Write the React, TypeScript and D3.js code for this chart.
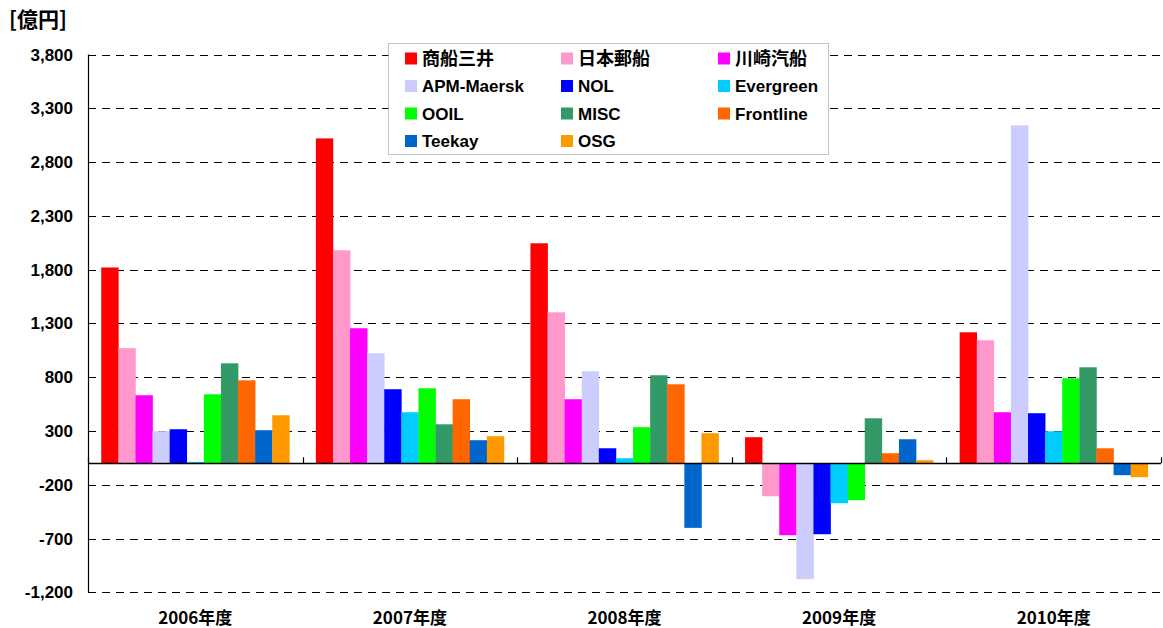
import React from "react";
import * as d3 from "d3";

const categories = ["2006年度", "2007年度", "2008年度", "2009年度", "2010年度"];
const seriesNames = [
  "商船三井", "日本郵船", "川崎汽船", "APM-Maersk", "NOL", "Evergreen",
  "OOIL", "MISC", "Frontline", "Teekay", "OSG",
];
const seriesColors = [
  "#FF0000", "#FF99CC", "#FF00FF", "#CCCCFF", "#0000FF", "#00CCFF",
  "#00FF00", "#339966", "#FF6600", "#0066CC", "#FF9900",
];
// values per series, by fiscal year 2006..2010 (億円)
const mitsui = [1820, 3020, 2045, 242, 1217];
const nyk = [1070, 1980, 1403, -307, 1143];
const kline = [632, 1255, 595, -669, 474];
const maersk = [298, 1022, 855, -1078, 3141];
const nol = [316, 688, 139, -660, 465];
const evergreen = [12, 474, 46, -372, 297];
const ooil = [641, 697, 335, -344, 790];
const misc = [929, 362, 818, 418, 892];
const frontline = [771, 595, 734, 93, 139];
const teekay = [307, 214, -601, 223, -111];
const osg = [446, 251, 279, 28, -130];
const seriesValues = [mitsui, nyk, kline, maersk, nol, evergreen, ooil, misc, frontline, teekay, osg];
const yTicks = [3800, 3300, 2800, 2300, 1800, 1300, 800, 300, -200, -700, -1200];
const unitLabel = "[億円]";

const W = 1163;
const H = 628;
const left = 88;
const right = 1161;
const top = 54.5;
const bottom = 592.3;

export default function App() {
  const x = d3.scaleBand<string>().domain(categories).range([left, right]).paddingInner(0).paddingOuter(0);
  const y = d3.scaleLinear().domain([-1200, 3800]).range([bottom, top]);
  const bw = x.bandwidth();
  const barW = bw / (seriesNames.length + 1.55);
  const offset = (bw - barW * seriesNames.length) / 2;
  const fmt = d3.format(",");
  const y0 = y(0);
  const snap = (v: number) => Math.round(v) + 0.5;

  const legendX = 388;
  const legendY = 43;
  const colX = [405, 561, 718];
  const rowY = [58.5, 86, 113.5, 141];

  return (
    <svg width={W} height={H} style={{ position: "absolute", left: 0, top: 0, background: "#fff" }}
      fontFamily="'Liberation Sans', Arial, 'Noto Sans CJK JP', sans-serif">
      <text x={9} y={27} fontSize={21} fontWeight="bold" fontFamily="'Noto Sans CJK JP', sans-serif">{unitLabel}</text>
      {/* gridlines */}
      {yTicks.map((t) => (
        <line key={"g" + t} x1={left} x2={right} y1={snap(y(t))} y2={snap(y(t))}
          stroke="#000" strokeWidth={1} strokeDasharray="8,6" />
      ))}
      {/* y labels */}
      {yTicks.map((t) => (
        <text key={"l" + t} x={73} y={y(t) + 6} textAnchor="end" fontSize={17} fontWeight="bold">
          {t < 0 ? "-" + fmt(-t) : fmt(t)}
        </text>
      ))}
      {/* bars */}
      {categories.map((c, ci) =>
        seriesValues.map((vals, si) => {
          const v = vals[ci];
          const x0 = (x(c) as number) + offset + si * barW;
          const yy = y(Math.max(0, v));
          const h = Math.abs(y(v) - y0);
          return <rect key={c + si} x={x0} y={yy} width={barW + 0.3} height={h} fill={seriesColors[si]} />;
        })
      )}
      {/* zero axis */}
      <line x1={left} x2={right} y1={snap(y0)} y2={snap(y0)} stroke="#000" strokeWidth={1.5} />
      {categories.concat([""]).map((c, i) => (
        <line key={"t" + i} x1={snap(left + i * bw)} x2={snap(left + i * bw)} y1={y0} y2={y0 - 6} stroke="#000" strokeWidth={1.2} />
      ))}
      <line x1={left + 0.5} x2={left + 0.5} y1={top} y2={bottom} stroke="#000" strokeWidth={1.2} />
      {/* category labels */}
      {categories.map((c) => (
        <text key={"c" + c} x={(x(c) as number) + bw / 2} y={624} textAnchor="middle" fontSize={17} fontWeight="bold"
          fontFamily="'Noto Sans CJK JP', sans-serif">{c}</text>
      ))}
      {/* legend */}
      <rect x={legendX + 0.5} y={legendY + 0.5} width={440} height={111} fill="#fff" stroke="#888" strokeWidth={1} strokeDasharray="1,1" />
      {seriesNames.map((s, i) => {
        const cx = colX[i % 3];
        const cy = rowY[Math.floor(i / 3)];
        const cjk = /[^\x00-\x7F]/.test(s);
        return (
          <g key={"lg" + s}>
            <rect x={cx} y={cy - 6} width={12} height={12} fill={seriesColors[i]} />
            <text x={cx + 17} y={cy + 6} fontSize={cjk ? 18 : 17} fontWeight="bold"
              fontFamily={cjk ? "'Noto Sans CJK JP', sans-serif" : "'Liberation Sans', Arial, sans-serif"}>{s}</text>
          </g>
        );
      })}
    </svg>
  );
}
